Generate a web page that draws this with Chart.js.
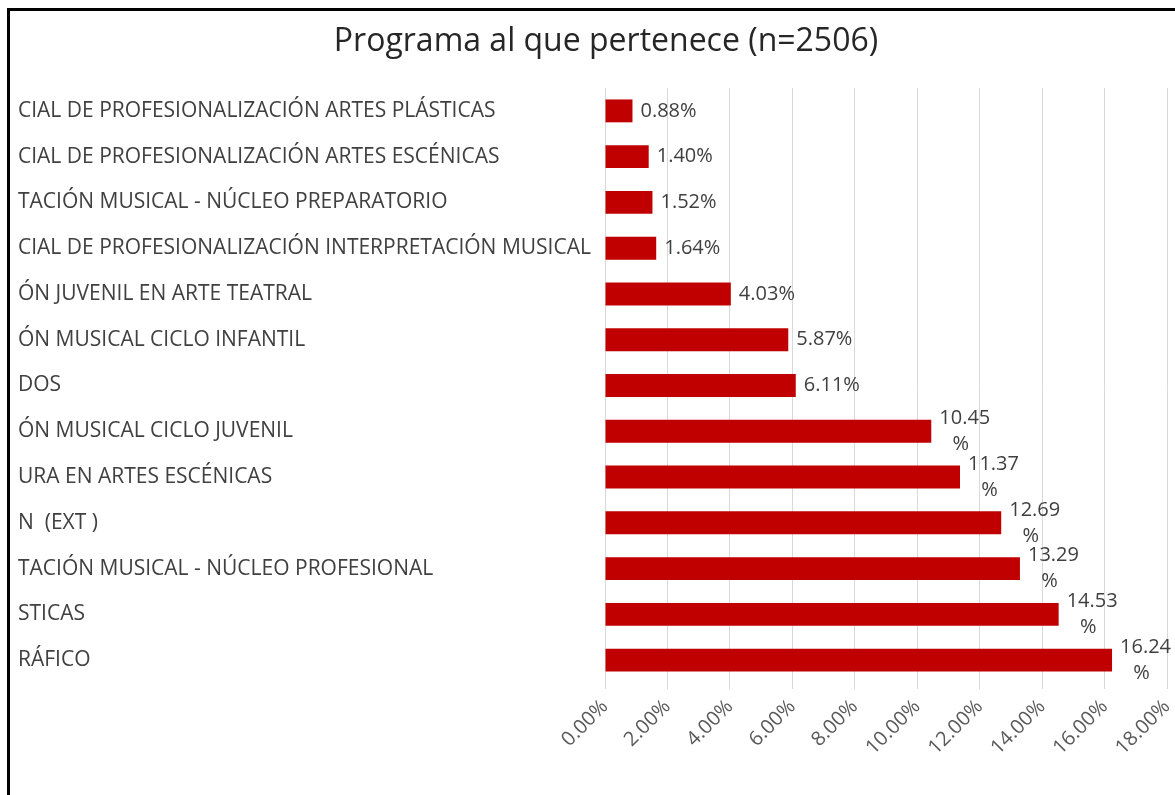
<!DOCTYPE html>
<html>
<head>
<meta charset="utf-8">
<script src="https://cdn.jsdelivr.net/npm/chart.js@4.4.1/dist/chart.umd.min.js"></script>
<style>
  html, body { margin: 0; padding: 0; background: #fff; }
  #wrap { position: relative; width: 1175px; height: 795px; overflow: hidden; }
  canvas { position: absolute; left: 0; top: 0; }
  #bt { position: absolute; left: 7px; top: 8px; width: 1168px; height: 3px; background: #000; }
  #bl { position: absolute; left: 7px; top: 8px; width: 3px; height: 787px; background: #000; }
</style>
</head>
<body>
<div id="wrap">
  <canvas id="c" width="1175" height="795"></canvas>
  <div id="bt"></div>
  <div id="bl"></div>
</div>
<script>
const title = 'Programa al que pertenece (n=2506)';
const categories = [
  'CIAL DE PROFESIONALIZACIÓN ARTES PLÁSTICAS',
  'CIAL DE PROFESIONALIZACIÓN ARTES ESCÉNICAS',
  'TACIÓN MUSICAL - NÚCLEO PREPARATORIO',
  'CIAL DE PROFESIONALIZACIÓN INTERPRETACIÓN MUSICAL',
  'ÓN JUVENIL EN ARTE TEATRAL',
  'ÓN MUSICAL CICLO INFANTIL',
  'DOS',
  'ÓN MUSICAL CICLO JUVENIL',
  'URA EN ARTES ESCÉNICAS',
  'N  (EXT )',
  'TACIÓN MUSICAL - NÚCLEO PROFESIONAL',
  'STICAS',
  'RÁFICO'
];
const values = [0.88, 1.40, 1.52, 1.64, 4.03, 5.87, 6.11, 10.45, 11.37, 12.69, 13.29, 14.53, 16.24];
const xTickMin = 0;
const xTickMax = 18;
const xTickStep = 2;

const FONT = "'Open Sans', 'Liberation Sans', sans-serif";

const titlePlugin = {
  id: 'topTitle',
  afterDraw(chart) {
    const ctx = chart.ctx;
    ctx.save();
    ctx.font = '32px ' + FONT;
    ctx.fillStyle = '#262626';
    ctx.textAlign = 'center';
    ctx.textBaseline = 'middle';
    ctx.fillText(title, 606, 42);
    ctx.restore();
  }
};

const labelPlugin = {
  id: 'barLabels',
  afterDatasetsDraw(chart) {
    const ctx = chart.ctx;
    const meta = chart.getDatasetMeta(0);
    ctx.save();
    ctx.font = '20px ' + FONT;
    ctx.fillStyle = '#404040';
    ctx.textBaseline = 'middle';
    meta.data.forEach((bar, i) => {
      const v = values[i];
      const num = v.toFixed(2);
      const x0 = bar.x + 8;
      if (v < 10) {
        ctx.textAlign = 'left';
        ctx.fillText(num + '%', x0, bar.y);
      } else {
        const w = ctx.measureText(num).width;
        ctx.textAlign = 'center';
        ctx.fillText(num, x0 + w / 2, bar.y - 13);
        ctx.fillText('%', x0 + w / 2 - 4, bar.y + 13);
      }
    });
    ctx.restore();
  }
};

new Chart(document.getElementById('c'), {
  type: 'bar',
  data: {
    labels: categories,
    datasets: [{
      data: values,
      backgroundColor: '#C00000',
      borderWidth: 0,
      categoryPercentage: 1,
      barPercentage: 0.5
    }]
  },
  options: {
    indexAxis: 'y',
    responsive: false,
    animation: false,
    events: [],
    layout: { padding: { left: 18, right: 8, top: 88, bottom: 0 } },
    plugins: {
      legend: { display: false },
      tooltip: { enabled: false },
      title: { display: false }
    },
    scales: {
      x: {
        min: xTickMin,
        max: xTickMax,
        border: { display: false },
        grid: { color: '#d9d9d9', lineWidth: 1, drawTicks: true, tickLength: 6, tickColor: '#d9d9d9' },
        ticks: {
          stepSize: xTickStep,
          color: '#595959',
          font: { family: FONT, size: 20 },
          minRotation: 45,
          maxRotation: 45,
          padding: 6,
          callback: (v) => Number(v).toFixed(2) + '%'
        },
        afterFit: (s) => { s.height = 112; s.paddingRight = 0; s.paddingLeft = 0; }
      },
      y: {
        border: { display: false },
        grid: { display: false, drawTicks: false },
        ticks: {
          autoSkip: false,
          crossAlign: 'far',
          color: '#404040',
          font: { family: FONT, size: 21 },
          padding: 0
        },
        afterFit: (s) => { s.width = 587; }
      }
    }
  },
  plugins: [labelPlugin, titlePlugin]
});
</script>
</body>
</html>
